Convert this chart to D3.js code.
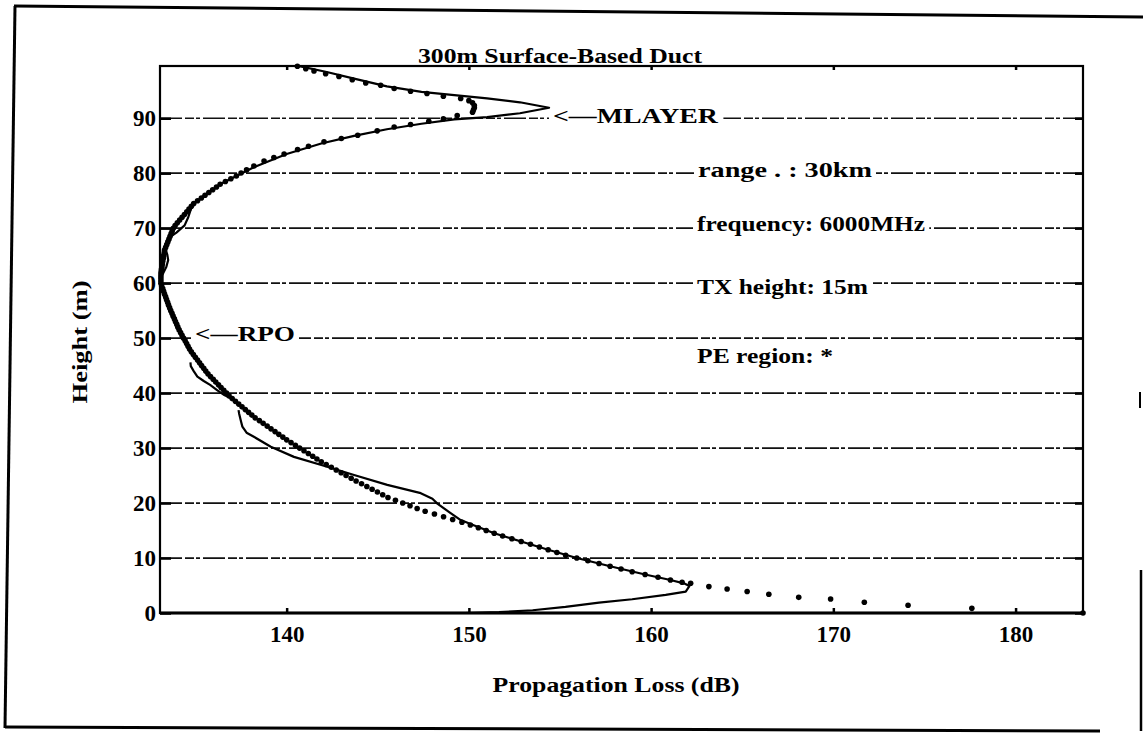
<!DOCTYPE html>
<html>
<head>
<meta charset="utf-8">
<script src="https://cdn.jsdelivr.net/npm/d3@7"></script>
<style>
  html, body { margin: 0; padding: 0; background: #fff; }
  svg { display: block; }
  text { font-family: "Liberation Serif", "Times New Roman", serif; font-weight: bold; fill: #000; }
</style>
</head>
<body>
<svg id="chart" width="1143" height="736"></svg>
<script>
// ---------- data ----------
const chartTitle = "300m Surface-Based Duct";
const xLabel = "Propagation Loss (dB)";
const yLabel = "Height (m)";
const lossTicks = [140, 150, 160, 170, 180];
const heightTicks = [0, 10, 20, 30, 40, 50, 60, 70, 80, 90];
const gridHeights = [10, 20, 30, 40, 50, 60, 70, 80, 90];
const lossDomain = [133.05, 183.7];
const heightDomain = [0, 99.5];

// solid curve [loss dB, height m]; null = break in the trace
const solidCurve = [
  [140.5,99.6],[142.2,98.4],[143.7,97.2],[145.5,95.8],[147.4,94.8],[149.2,94.2],[151.0,93.6],[152.8,92.9],[154.4,91.9],
  [152.8,90.9],[151.0,90.2],[149.2,89.8],[147.4,89.0],[145.5,88.0],[143.7,86.8],[141.9,85.4],[140.0,83.5],[138.2,81.1],
  [136.4,78.1],[135.3,75.5],[134.9,74.5],[134.75,73.5],[134.6,72],[134.4,70.5],[133.95,69.2],[133.6,68.4],[133.4,67],
  [133.35,66.2],[133.45,65.2],[133.5,64.2],[133.4,63],[133.25,62],[133.1,61],[133.08,60],[133.15,59],[133.3,57.5],
  [133.55,55.7],[133.8,53.5],[134.1,51.5],[134.5,49],[134.77,47.5],[135.0,46.5],
  null,
  [134.72,45.6],[134.74,44.9],[134.9,44.0],[135.1,43.0],[135.45,42.2],[135.8,41.5],[136.2,40.5],[136.6,39.6],
  [137.0,39.0],[137.37,38.0],[137.73,37.0],[137.9,36.6],
  null,
  [137.36,36.9],[137.39,36.3],[137.5,34.8],[137.57,33.9],[137.8,32.8],[138.2,32.05],[139.13,30.24],[140.4,28.4],
  [142.23,26.6],[143.7,25.1],[145.52,23.3],[147.36,21.8],[148.0,20.8],[148.27,19.9],[148.9,18.4],[149.55,16.9],
  [150.3,15.9],[151.39,14.5],[152.87,13],[154.35,11.5],[155.92,10],[157.75,8.5],[159.67,7],[161.06,6],[161.8,5.4],
  [162.1,4.9],[161.9,3.9],[160.8,3.3],[158.96,2.5],[157.14,1.9],[155.3,1.1],[153.5,0.5],[151.65,0.15],[149.8,0.0]
];

// dotted (PE) series [loss dB, height m]
const peDots = [
  [140.59,99.45],[141.05,99.0],[141.5,98.6],[142.14,98.1],[142.87,97.6],[143.6,97.0],[144.34,96.4],[145.16,96.0],
  [145.9,95.4],[146.8,94.9],[147.7,94.5],[148.6,94.0],[149.55,93.6],[150.0,93.2],[150.2,92.8],[150.3,92.3],[150.3,91.9],
  [150.25,91.5],[150.2,91.1],[149.36,90.5],[148.6,89.9],[147.8,89.45],[146.8,88.85],[145.9,88.4],[144.97,87.7],
  [143.9,86.9],[143.0,86.3],[142.05,85.7],[141.2,84.9],[140.6,84.3],[139.86,83.5],[139.3,82.85],[138.76,82.2],
  [138.2,81.3],[137.8,80.6],[137.5,80.05],
  [137.24,79.5],[136.94,79],[136.64,78.5],[136.35,78],[136.15,77.5],[135.94,77],[135.73,76.5],[135.52,76],[135.32,75.5],
  [135.11,75],[134.9,74.5],[134.77,74],[134.64,73.5],[134.52,73],[134.39,72.5],[134.26,72],[134.13,71.5],[134.0,71],
  [133.88,70.5],[133.78,70],[133.72,69.5],[133.66,69],[133.6,68.5],[133.54,68],[133.48,67.5],[133.42,67],[133.36,66.5],
  [133.3,66],[133.28,65.5],[133.25,65],[133.23,64.5],[133.2,64],[133.18,63.5],[133.16,63],[133.13,62.5],[133.11,62],
  [133.1,61.5],[133.1,61],[133.1,60.5],[133.1,60],[133.14,59.5],[133.2,59],[133.25,58.5],[133.3,58],[133.36,57.5],
  [133.41,57],[133.47,56.5],[133.52,56],[133.58,55.5],[133.64,55],[133.71,54.5],[133.77,54],[133.84,53.5],[133.9,53],
  [133.97,52.5],[134.03,52],[134.1,51.5],[134.18,51],[134.26,50.5],[134.34,50],[134.43,49.5],[134.51,49],[134.59,48.5],
  [134.67,48],[134.77,47.5],[134.88,47],[134.99,46.5],[135.11,46],[135.22,45.5],[135.33,45],[135.45,44.5],[135.56,44],
  [135.68,43.5],[135.82,43],[135.97,42.5],[136.11,42],[136.26,41.5],[136.4,41],[136.55,40.5],[136.7,40],[136.84,39.5],
  [137.01,39],[137.19,38.5],[137.37,38],[137.55,37.5],[137.73,37],[137.91,36.5],[138.09,36],[138.27,35.5],[138.5,35],
  [138.71,34.5],[138.93,34],[139.14,33.5],[139.36,33],[139.57,32.5],[139.79,32],[140.0,31.5],[140.24,31],[140.48,30.5],
  [140.71,30],[140.95,29.5],[141.19,29],[141.43,28.5],[141.66,28],[141.9,27.5],[142.17,27],[142.45,26.5],[142.72,26],
  [142.99,25.5],[143.26,25],[143.54,24.5],[143.81,24],[144.11,23.5],[144.4,23],[144.69,22.5],[144.98,22],[145.27,21.5],
  [145.56,21],[145.97,20.5],[146.37,20],[146.77,19.5],[147.16,19],[147.6,18.5],[148.11,18],[148.61,17.5],[149.11,17],
  [149.62,16.5],[150.08,16],[150.52,15.5],[150.95,15],[151.39,14.5],[151.85,14],[152.36,13.5],[152.87,13],[153.38,12.5],
  [153.87,12],[154.35,11.5],[154.83,11],[155.31,10.5],[155.92,10],[156.53,9.5],[157.14,9],[157.75,8.5],[158.35,8],
  [158.96,7.5],[159.67,7],[160.38,6.5],[161.06,6],[161.7,5.6],[162.17,5.4],
  [163.17,4.8],[164.17,4.36],[165.27,3.9],[166.46,3.4],[168.1,2.85],[169.85,2.55],[171.7,1.95],[174.1,1.4],[177.6,0.85],[183.7,0.0]
];

const annotationTexts = ["<\u2014MLAYER", "<\u2014RPO", "range   . : 30km", "frequency: 6000MHz", "TX height: 15m", "PE region: *"];

// ---------- drawing ----------
const svg = d3.select("#chart");
const plot = { left: 160, right: 1083, top: 66, bottom: 613 };

const x = d3.scaleLinear().domain(lossDomain).range([plot.left, plot.right]);
const y = d3.scaleLinear().domain(heightDomain).range([plot.bottom, plot.top]);

svg.append("rect").attr("width", 1143).attr("height", 736).attr("fill", "#fff");

// outer (scanned) page frame
const frame = svg.append("g").attr("stroke", "#000").attr("fill", "none").attr("stroke-width", 3);
frame.append("path").attr("d", "M14,6 L1143,17");
frame.append("path").attr("d", "M15,6 L5,728");
frame.append("path").attr("d", "M5,727 L1100,731");
frame.append("path").attr("d", "M1141,570 L1141,731").attr("stroke-width", 2.5);
frame.append("path").attr("d", "M1140,392 L1140,408").attr("stroke-width", 2);

// gridlines
svg.append("g").selectAll("line").data(gridHeights).join("line")
  .attr("x1", plot.left).attr("x2", plot.right)
  .attr("y1", d => y(d)).attr("y2", d => y(d))
  .attr("stroke", "#111").attr("stroke-width", 1.7)
  .attr("stroke-dasharray", "22,3,9,2,4,3");

// annotation labels (white backing cuts the gridlines)
const annoPos = [
  { x: 553, y: 123, len: 165 },
  { x: 195, y: 341, len: 100 },
  { x: 698, y: 177, len: 174 },
  { x: 697, y: 231, len: 228 },
  { x: 697, y: 294, len: 171 },
  { x: 697, y: 363, len: 136 }
];
const annoBg = svg.append("g");
const annoG = svg.append("g");
annotationTexts.forEach((t, i) => {
  const p = annoPos[i];
  const tx = annoG.append("text").attr("x", p.x).attr("y", p.y)
    .attr("font-size", 22).attr("textLength", p.len).attr("lengthAdjust", "spacingAndGlyphs").text(t);
  const b = tx.node().getBBox();
  annoBg.append("rect").attr("x", b.x - 4).attr("y", p.y - 14).attr("width", b.width + 8).attr("height", 18).attr("fill", "#fff");
});

// plot box
svg.append("rect").attr("x", plot.left).attr("y", plot.top)
  .attr("width", plot.right - plot.left).attr("height", plot.bottom - plot.top)
  .attr("fill", "none").attr("stroke", "#000").attr("stroke-width", 2.2);
svg.append("line").attr("x1", plot.left).attr("x2", plot.right).attr("y1", plot.bottom).attr("y2", plot.bottom)
  .attr("stroke", "#000").attr("stroke-width", 3);

// axes
const styleAxis = g => {
  g.select(".domain").remove();
  g.selectAll(".tick line").attr("stroke", "#000").attr("stroke-width", 2.5);
  g.selectAll(".tick text").attr("font-size", 23).attr("font-family", "'Liberation Serif', serif").attr("font-weight", "bold").attr("fill", "#000");
};
svg.append("g").attr("transform", `translate(${plot.left},0)`)
  .call(d3.axisLeft(y).tickValues(heightTicks).tickSizeInner(-11).tickSizeOuter(0).tickPadding(4).tickFormat(d3.format("d")))
  .call(styleAxis);
svg.append("g").attr("transform", `translate(${plot.right},0)`)
  .call(d3.axisRight(y).tickValues(heightTicks).tickSizeInner(-8).tickSizeOuter(0).tickFormat(""))
  .call(styleAxis);
svg.append("g").attr("transform", `translate(0,${plot.bottom})`)
  .call(d3.axisBottom(x).tickValues(lossTicks).tickSizeInner(-5).tickSizeOuter(0).tickPadding(13).tickFormat(d3.format("d")))
  .call(styleAxis);
svg.append("g").attr("transform", `translate(0,${plot.top})`)
  .call(d3.axisTop(x).tickValues(lossTicks).tickSizeInner(-4).tickSizeOuter(0).tickFormat(""))
  .call(styleAxis);

// series
const line = d3.line().defined(d => d !== null).x(d => x(d[0])).y(d => y(d[1]));
svg.append("path").datum(solidCurve).attr("d", line)
  .attr("fill", "none").attr("stroke", "#000").attr("stroke-width", 2.2).attr("stroke-linejoin", "round");
svg.append("g").selectAll("circle").data(peDots).join("circle")
  .attr("cx", d => x(d[0])).attr("cy", d => y(d[1])).attr("r", 2.8).attr("fill", "#000");

// titles
svg.append("text").attr("x", 560).attr("y", 63).attr("text-anchor", "middle")
  .attr("font-size", 22).attr("textLength", 284).attr("lengthAdjust", "spacingAndGlyphs").text(chartTitle);
svg.append("text").attr("x", 616).attr("y", 692).attr("text-anchor", "middle")
  .attr("font-size", 22).attr("textLength", 247).attr("lengthAdjust", "spacingAndGlyphs").text(xLabel);
svg.append("text").attr("transform", "translate(87,342) rotate(-90)").attr("text-anchor", "middle")
  .attr("font-size", 22).attr("textLength", 123).attr("lengthAdjust", "spacingAndGlyphs").text(yLabel);
</script>
</body>
</html>
